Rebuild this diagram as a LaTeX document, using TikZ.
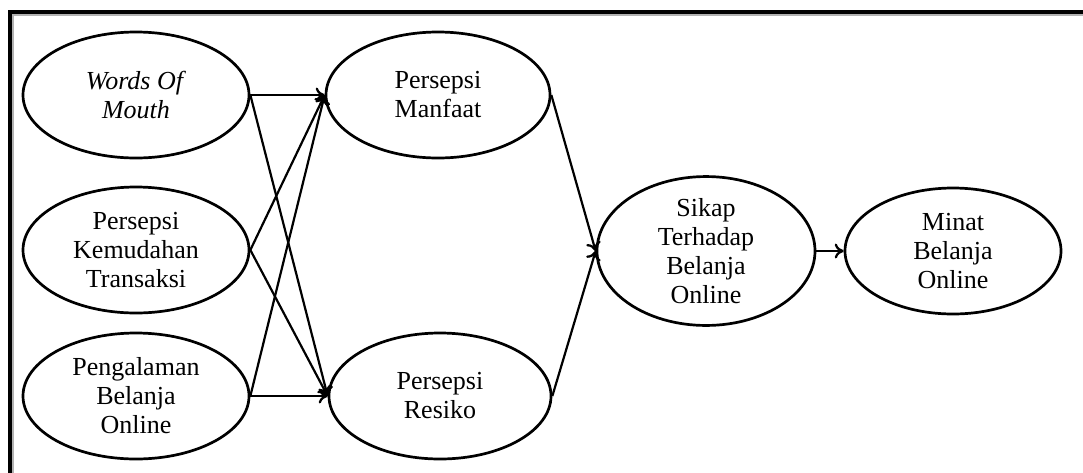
\documentclass[tikz,border=0pt]{standalone}
\usepackage{fontspec}
\setmainfont{Liberation Serif}
\usetikzlibrary{shapes.geometric,arrows.meta}

\tikzset{
  var/.style={draw, ellipse, line width=2.7pt, inner sep=0pt,
    minimum width=226pt, minimum height=126pt, align=center,
    font=\fontsize{26}{29}\selectfont},
  link/.style={-{To[length=9pt,width=15pt,line width=2.3pt]}, line width=2.2pt}
}

\begin{document}
\begin{tikzpicture}[x=1pt,y=-1pt]
\useasboundingbox (0,0) rectangle (1083,472);
% frame
\draw[line width=2pt, gray!60] (12.5,480) -- (12.5,15) -- (1090,15);
\draw[line width=3.8pt] (10,480) -- (10,12) -- (1090,12);
% variables
\node[var] (wom) at (136,95) {\textit{Words Of}\\\textit{Mouth}};
\node[var] (pkt) at (136,250) {Persepsi\\Kemudahan\\Transaksi};
\node[var] (pbo) at (136,396) {Pengalaman\\Belanja\\Online};
\node[var, minimum width=224pt] (pm) at (438,95) {Persepsi\\Manfaat};
\node[var, minimum width=222pt] (pr) at (440,396) {Persepsi\\Resiko};
\node[var, minimum width=218pt] (sik) at (706,251) {Sikap\\Terhadap\\Belanja\\Online};
\node[var, minimum width=216pt] (min) at (953,251) {Minat\\Belanja\\Online};
% paths
\draw[link] (wom.east) -- (pm.west);
\draw[link] (wom.east) -- (pr.west);
\draw[link] (pkt.east) -- (pm.west);
\draw[link] (pkt.east) -- (pr.west);
\draw[link] (pbo.east) -- (pm.west);
\draw[link] (pbo.east) -- (pr.west);
\draw[link] (pm.east) -- (sik.west);
\draw[link] (pr.east) -- (sik.west);
\draw[link] (sik.east) -- (min.west);
\end{tikzpicture}
\end{document}
